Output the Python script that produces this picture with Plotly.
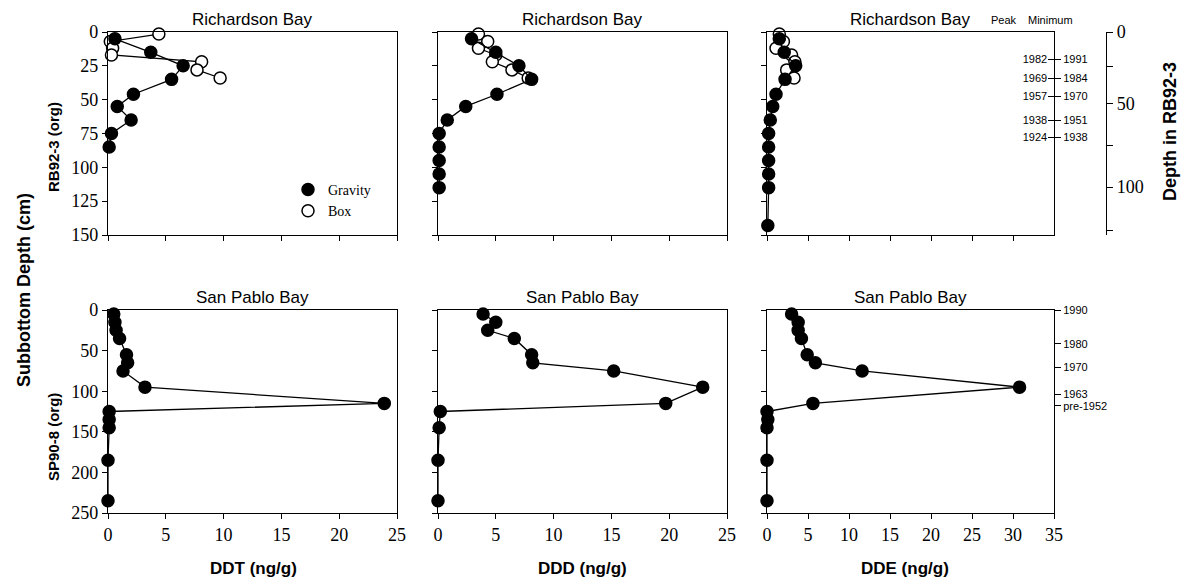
import plotly.graph_objects as go

# ---------------- data ----------------
# Richardson Bay (RB92-3), depth in cm (org)
rb_grav_depth = [5, 15, 25, 35, 46, 55, 65, 75, 85, 95, 105, 115, 143]
rb_box_depth = [1.5, 7, 12, 17, 22, 28, 34]
rb_grav_ddt = [0.6, 3.7, 6.5, 5.5, 2.2, 0.8, 2.0, 0.3, 0.1]
rb_box_ddt = [4.4, 0.2, 0.4, 0.3, 8.1, 7.7, 9.7]
rb_grav_ddd = [2.9, 5.0, 7.0, 8.1, 5.1, 2.4, 0.8, 0.1, 0.1, 0.1, 0.1, 0.1]
rb_box_ddd = [3.5, 4.3, 3.5, 5.0, 4.7, 6.4, 7.8]
rb_grav_dde = [1.5, 2.1, 3.5, 2.2, 1.1, 0.7, 0.4, 0.2, 0.2, 0.2, 0.2, 0.2, 0.1]
rb_box_dde = [1.5, 2.0, 1.1, 3.0, 3.4, 2.4, 3.3]

# San Pablo Bay (SP90-8)
sp_depth = [5, 15, 25, 35, 55, 65, 75, 95, 115, 125, 135, 145, 185, 235]
sp_ddt = [0.5, 0.6, 0.7, 1.0, 1.6, 1.7, 1.3, 3.2, 23.9, 0.1, 0.1, 0.1, 0.0, 0.0]
sp_ddd_depth = [5, 15, 25, 35, 55, 65, 75, 95, 115, 125, 145, 185, 235]
sp_ddd = [3.9, 5.0, 4.3, 6.6, 8.1, 8.2, 15.2, 22.9, 19.7, 0.2, 0.1, 0.0, 0.0]
sp_dde = [3.0, 3.8, 3.8, 4.2, 4.9, 5.9, 11.6, 30.8, 5.6, 0.0, 0.1, 0.0, 0.0, 0.0]

# date scales
rb_date_depth = [20.3, 34.4, 47.5, 65.3, 77.7]
rb_peak_years = ["1982", "1969", "1957", "1938", "1924"]
rb_min_years = ["1991", "1984", "1970", "1951", "1938"]
rb92_depth_ticks = ["0", "", "50", "", "100", ""]
rb92_depth_pos = [0, 25.5, 52.7, 83.7, 114.6, 146.8]
sp_date_depth = [0, 41.5, 70.4, 104, 118]
sp_dates = ["1990", "1980", "1970", "1963", "pre-1952"]

W, H = 1190, 585
SANS = "Liberation Sans"
SERIF = "Liberation Serif"

cols = [(108, 397), (438, 727), (767, 1054)]
rows = [(32, 235), (310, 513)]

def xd(c):
    return [c[0] / W, c[1] / W]

def yd(r):
    return [1 - r[1] / H, 1 - r[0] / H]

fig = go.Figure()

def add_series(x, y, xa, ya, filled, name=None, legend=False):
    fig.add_trace(go.Scatter(x=x, y=y, xaxis=xa, yaxis=ya, mode="lines",
                             line=dict(color="black", width=1.3),
                             showlegend=False, hoverinfo="skip", cliponaxis=False))
    fig.add_trace(go.Scatter(x=x, y=y, xaxis=xa, yaxis=ya, mode="markers",
                             name=name, showlegend=legend, cliponaxis=False,
                             marker=dict(size=12, symbol="circle",
                                         color="black" if filled else "white",
                                         line=dict(color="black", width=1.5))))

# top row
add_series(rb_box_ddt, rb_box_depth, "x", "y", False, "Box", True)
add_series(rb_grav_ddt, rb_grav_depth[:len(rb_grav_ddt)], "x", "y", True, "Gravity", True)
add_series(rb_box_ddd, rb_box_depth, "x2", "y2", False)
add_series(rb_grav_ddd, rb_grav_depth[:len(rb_grav_ddd)], "x2", "y2", True)
add_series(rb_box_dde, rb_box_depth, "x3", "y3", False)
add_series(rb_grav_dde, rb_grav_depth[:len(rb_grav_dde)], "x3", "y3", True)
# bottom row
add_series(sp_ddt, sp_depth, "x4", "y4", True)
add_series(sp_ddd, sp_ddd_depth, "x5", "y5", True)
add_series(sp_dde, sp_depth, "x6", "y6", True)

tickfont = dict(family=SERIF, size=18, color="black")
base_ax = dict(showline=True, linecolor="black", linewidth=1.2, mirror=True,
               ticks="outside", ticklen=5, tickwidth=1, tickcolor="black",
               showgrid=False, zeroline=False, tickfont=tickfont, fixedrange=True,
               automargin=False)

layout = dict(width=W, height=H,
              margin=dict(l=0, r=0, t=0, b=0, pad=0, autoexpand=False),
              paper_bgcolor="white", plot_bgcolor="white")

xranges = [[0, 25], [0, 25], [0, 35]]
for r in range(2):
    for c in range(3):
        i = r * 3 + c + 1
        xk = "xaxis" if i == 1 else f"xaxis{i}"
        yk = "yaxis" if i == 1 else f"yaxis{i}"
        xa_anchor = "y" if i == 1 else f"y{i}"
        ya_anchor = "x" if i == 1 else f"x{i}"
        layout[xk] = dict(base_ax, domain=xd(cols[c]), anchor=xa_anchor,
                          range=xranges[c], dtick=5, tick0=0,
                          showticklabels=(r == 1))
        layout[yk] = dict(base_ax, domain=yd(rows[r]), anchor=ya_anchor,
                          range=[150, 0] if r == 0 else [250, 0],
                          dtick=25 if r == 0 else 50, tick0=0,
                          showticklabels=(c == 0))

# date axes, top right (peak inside, minimum outside)
date_font = dict(family=SANS, size=11, color="black")
common = dict(showgrid=False, zeroline=False, fixedrange=True, automargin=False,
              tickcolor="black")
layout["yaxis7"] = dict(common, overlaying="y3", anchor="x3", side="right", range=[150, 0],
                        tickvals=rb_date_depth, ticktext=rb_peak_years,
                        ticks="inside", ticklen=6,
                        ticklabelposition="inside", showline=False,
                        tickfont=date_font)
layout["yaxis8"] = dict(common, overlaying="y3", anchor="x3", side="right", range=[150, 0],
                        tickvals=rb_date_depth, ticktext=rb_min_years,
                        ticks="outside", ticklen=6, showline=False,
                        tickfont=date_font)
layout["yaxis9"] = dict(common, overlaying="y3", anchor="free", position=1106 / W,
                        side="right", range=[150, 0], tickvals=rb92_depth_pos,
                        ticktext=rb92_depth_ticks, ticks="outside", ticklen=6,
                        showline=True, linecolor="black", linewidth=1.2,
                        tickfont=tickfont)
layout["yaxis10"] = dict(common, overlaying="y6", anchor="x6", side="right", range=[250, 0],
                         tickvals=sp_date_depth, ticktext=sp_dates,
                         ticks="outside", ticklen=6, showline=False,
                         tickfont=date_font)

layout["legend"] = dict(x=288 / W, y=1 - 174 / H, xanchor="left", yanchor="top",
                        font=dict(family=SERIF, size=14, color="black"),
                        bgcolor="rgba(0,0,0,0)", tracegroupgap=0, itemwidth=30,
                        traceorder="reversed")

fig.update_layout(**layout)

# invisible placeholders so the overlay axes render
for ya, xa in [("y7", "x3"), ("y8", "x3"), ("y9", "x3"), ("y10", "x6")]:
    fig.add_trace(go.Scatter(x=[None], y=[None], xaxis=xa, yaxis=ya,
                             showlegend=False, hoverinfo="skip"))

def ann(text, x, y, size, bold=False, angle=0, family=SANS):
    fig.add_annotation(text=f"<b>{text}</b>" if bold else text,
                       x=x / W, y=1 - y / H, xref="paper", yref="paper",
                       showarrow=False, textangle=angle,
                       font=dict(family=family, size=size, color="black"),
                       xanchor="center", yanchor="middle")

for c in cols:
    cx = (c[0] + c[1]) / 2
    ann("Richardson Bay", cx, 20, 17)
    ann("San Pablo Bay", cx, 297, 17)

ann("Peak", 1004, 20, 11)
ann("Minimum", 1050, 20, 11)
ann("RB92-3 (org)", 53, 147, 15, bold=True, angle=-90)
ann("SP90-8 (org)", 53, 437, 15, bold=True, angle=-90)
ann("Subbottom Depth (cm)", 24, 290, 18, bold=True, angle=-90)
ann("Depth in RB92-3", 1170, 132, 18, bold=True, angle=-90)
ann("DDT (ng/g)", 253, 568, 17, bold=True)
ann("DDD (ng/g)", 582, 568, 17, bold=True)
ann("DDE (ng/g)", 905, 568, 17, bold=True)

fig.write_html("out.html",
               config={"displayModeBar": False, "staticPlot": True},
               post_script="document.body.style.margin='0';"
                           "document.body.style.padding='0';"
                           "document.documentElement.style.overflow='hidden';")
